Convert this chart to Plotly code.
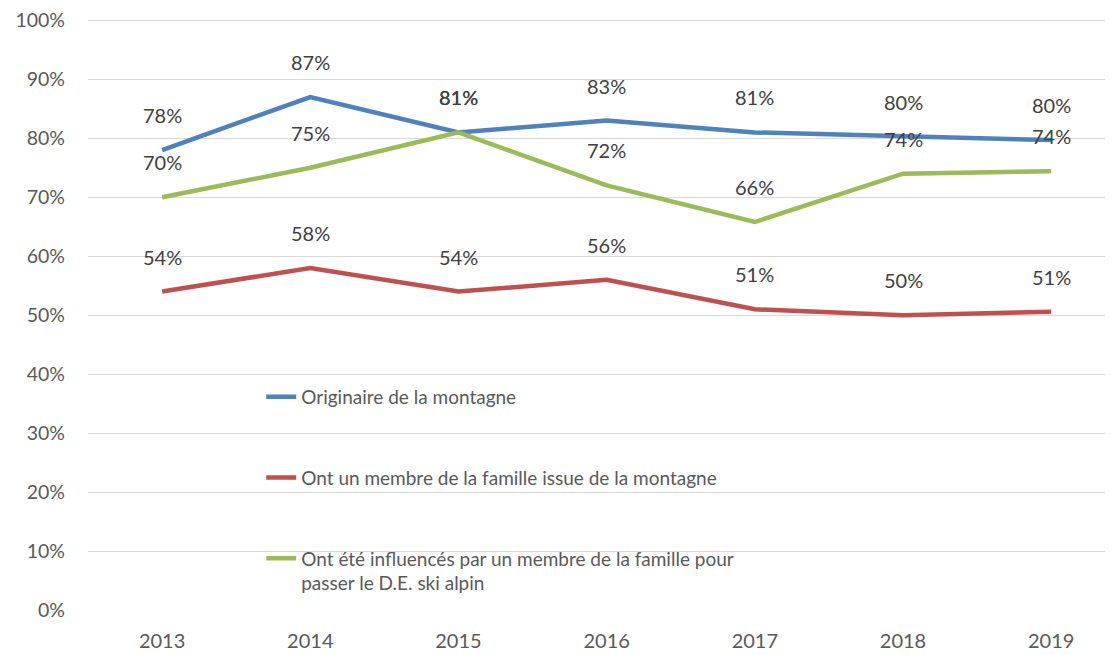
import plotly.graph_objects as go

years = ["2013", "2014", "2015", "2016", "2017", "2018", "2019"]
originaire = [78, 87, 81, 83, 81, 80.3, 79.7]
membre_famille = [54, 58, 54, 56, 51, 50, 50.6]
influences = [70, 75, 81, 72, 65.8, 74, 74.4]

series_names = [
    "Originaire de la montagne",
    "Ont un membre de la famille issue de la montagne",
    "Ont été influencés par un membre de la famille pour<br>passer le D.E. ski alpin",
]
series_values = [originaire, membre_famille, influences]
colors = ["#4f81bd", "#c0504d", "#9bbb59"]

FONT = "Lato"

fig = go.Figure()
for i, (name, vals, col) in enumerate(zip(series_names, series_values, colors)):
    fig.add_trace(go.Scatter(
        x=years, y=vals, mode="lines", name=name,
        line=dict(color=col, width=4.5),
        legendgroup=f"g{i}",
        hoverinfo="skip",
    ))

annotations = []
for vals in series_values:
    for idx, v in enumerate(vals):
        annotations.append(dict(
            x=idx, y=v, xref="x", yref="y",
            text=f"{round(v)}%", showarrow=False,
            yanchor="middle", xanchor="center", yshift=35,
            font=dict(family=FONT, size=20, color="#404040"),
        ))

fig.update_layout(
    width=1105, height=647,
    margin=dict(l=80, r=0, t=8, b=45),
    paper_bgcolor="white", plot_bgcolor="white",
    font=dict(family=FONT, color="#595959"),
    showlegend=True,
    legend=dict(
        x=0.169, y=0.392, xanchor="left", yanchor="top",
        bgcolor="rgba(0,0,0,0)",
        font=dict(family=FONT, size=19, color="#595959"),
        tracegroupgap=53, valign="top",
    ),
    annotations=annotations,
    xaxis=dict(
        type="category", range=[-0.5, 6.417],
        showgrid=False, zeroline=False, showline=False,
        tickfont=dict(family=FONT, size=20, color="#595959"),
        ticks="", ticklabelstandoff=17,
        fixedrange=True,
    ),
    yaxis=dict(
        range=[0, 100.4], tickmode="linear", tick0=0, dtick=10, ticksuffix="%",
        showgrid=True, gridcolor="#d9d9d9", gridwidth=1.3,
        zeroline=False, showline=False,
        tickfont=dict(family=FONT, size=19.5, color="#595959"),
        ticks="", ticklabelstandoff=22, ticklabeloverflow="allow",
        fixedrange=True,
    ),
)

fig.write_html("out.html")
